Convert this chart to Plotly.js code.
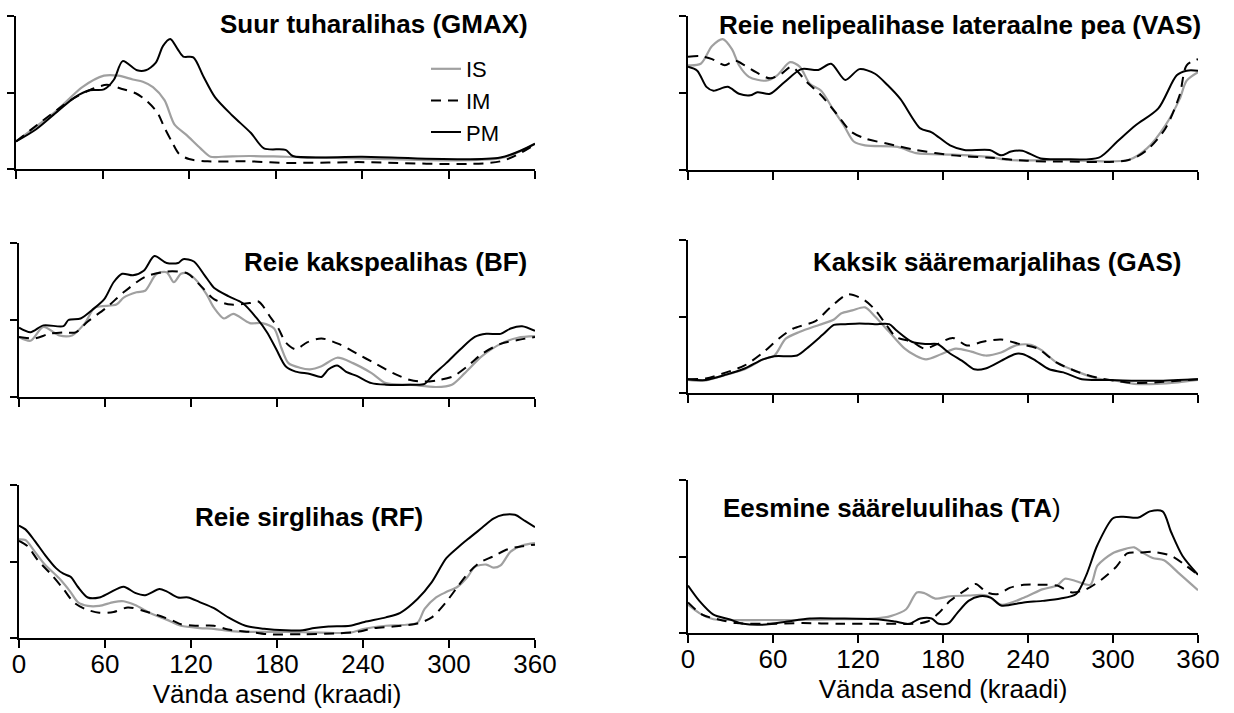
<!DOCTYPE html>
<html>
<head>
<meta charset="utf-8">
<script src="https://cdn.plot.ly/plotly-3.0.1.min.js"></script>
<style>html,body{margin:0;padding:0;background:#fff;}#chart{width:1234px;height:713px;}</style>
</head>
<body>
<div id="chart"></div>
<script>
// ---- Data (crank angle in degrees, relative EMG activity) ----
const seriesNames = ["IS", "IM", "PM"];
const xTicks = [0, 60, 120, 180, 240, 300, 360];
const xTitle = "Vända asend (kraadi)";

// Suur tuharalihas (GMAX)
const gmaxIS_x = [0, 28, 46, 61, 71, 81, 88, 95, 103, 110, 118, 128, 135, 143, 162, 187, 237, 336, 360];
const gmaxIS_y = [0.36, 0.76, 1.07, 1.22, 1.22, 1.17, 1.14, 1.07, 0.90, 0.58, 0.45, 0.27, 0.16, 0.16, 0.17, 0.16, 0.14, 0.14, 0.33];
const gmaxIM_x = [0, 38, 51, 63, 73, 83, 90, 98, 103, 108, 113, 120, 133, 162, 187, 237, 336, 360];
const gmaxIM_y = [0.36, 0.90, 1.03, 1.10, 1.05, 0.99, 0.90, 0.74, 0.54, 0.36, 0.20, 0.13, 0.10, 0.10, 0.08, 0.09, 0.10, 0.32];
const gmaxPM_x = [0, 14, 28, 41, 51, 61, 68, 74, 84, 90, 97, 102, 107, 112, 116, 123, 130, 138, 150, 163, 172, 187, 192, 240, 336, 360];
const gmaxPM_y = [0.36, 0.52, 0.74, 0.94, 1.03, 1.04, 1.17, 1.41, 1.29, 1.29, 1.39, 1.61, 1.70, 1.57, 1.47, 1.46, 1.21, 0.94, 0.70, 0.47, 0.27, 0.25, 0.17, 0.16, 0.15, 0.33];

// Reie nelipealihase lateraalne pea (VAS)
const vasIS_x = [0, 9, 17, 24.5, 31, 36, 43, 55, 63, 72, 79, 86, 94, 102, 110, 117, 125, 148, 161, 187, 213, 226, 264, 311, 324, 337, 347, 352, 360];
const vasIS_y = [1.36, 1.38, 1.61, 1.70, 1.57, 1.36, 1.21, 1.16, 1.23, 1.40, 1.34, 1.12, 1.03, 0.80, 0.58, 0.37, 0.32, 0.30, 0.22, 0.20, 0.17, 0.13, 0.13, 0.13, 0.28, 0.58, 0.92, 1.16, 1.27];
const vasIM_x = [0, 8, 17, 26, 33, 40, 48, 58, 66, 73, 84, 94, 104, 115, 125, 141, 161, 187, 213, 239, 264, 311, 324, 337, 347, 352, 360];
const vasIM_y = [1.47, 1.48, 1.44, 1.36, 1.42, 1.36, 1.27, 1.19, 1.25, 1.34, 1.14, 0.97, 0.75, 0.50, 0.41, 0.34, 0.26, 0.19, 0.16, 0.12, 0.11, 0.13, 0.26, 0.54, 0.97, 1.36, 1.44];
const vasPM_x = [0, 6.5, 13, 18, 28, 36, 44, 49, 58, 68, 80, 92, 101, 111, 121, 132, 141, 150, 164, 172, 185, 195, 213, 221, 228, 236, 249, 265, 290, 303, 316, 332, 345, 352, 360];
const vasPM_y = [1.34, 1.29, 1.08, 1.03, 1.08, 0.99, 0.97, 1.01, 0.99, 1.14, 1.31, 1.30, 1.38, 1.17, 1.31, 1.25, 1.10, 0.92, 0.54, 0.49, 0.32, 0.26, 0.26, 0.19, 0.24, 0.25, 0.15, 0.14, 0.16, 0.37, 0.58, 0.80, 1.23, 1.29, 1.29];

// Reie kakspealihas (BF)
const bfIS_x = [0, 8, 17, 28, 37, 46, 53, 68, 73, 82, 88, 96, 103, 108, 113, 117, 123, 131, 136, 143, 149.5, 161, 169.5, 178, 183, 188, 196, 203, 211, 222, 233, 246, 256, 273, 291, 302, 311, 323, 336, 348, 360];
const bfIS_y = [0.78, 0.73, 0.91, 0.80, 0.80, 0.96, 1.16, 1.20, 1.29, 1.36, 1.38, 1.60, 1.62, 1.49, 1.60, 1.61, 1.53, 1.33, 1.16, 1.02, 1.08, 0.96, 0.96, 0.89, 0.64, 0.44, 0.38, 0.36, 0.40, 0.51, 0.44, 0.31, 0.18, 0.16, 0.13, 0.16, 0.31, 0.53, 0.69, 0.77, 0.79];
const bfIM_x = [0, 11, 21, 31, 39.5, 48, 61, 73, 88, 103, 111, 118, 128, 136, 148, 161, 167, 176, 181, 186, 193, 201, 211, 223, 236, 248, 261, 273, 283, 293, 303, 313, 323, 336, 348, 360];
const bfIM_y = [0.78, 0.76, 0.82, 0.84, 0.84, 0.98, 1.16, 1.36, 1.56, 1.63, 1.63, 1.60, 1.42, 1.27, 1.20, 1.22, 1.24, 1.02, 0.89, 0.71, 0.62, 0.71, 0.76, 0.69, 0.56, 0.44, 0.31, 0.22, 0.20, 0.22, 0.27, 0.40, 0.56, 0.69, 0.74, 0.78];
const bfPM_x = [0, 8, 17, 31, 34.5, 43, 51, 59.5, 66, 72, 79.5, 87, 94.5, 103, 111, 114.5, 122, 129.5, 133, 136, 146, 156, 166, 173, 179.5, 186, 193, 203, 211, 216, 222, 228, 236, 246, 256, 273, 283, 288, 298, 308, 318, 326, 336, 343, 351, 360];
const bfPM_y = [0.90, 0.84, 0.93, 0.92, 1.00, 1.02, 1.13, 1.27, 1.49, 1.60, 1.58, 1.64, 1.83, 1.74, 1.74, 1.79, 1.76, 1.58, 1.49, 1.42, 1.31, 1.22, 1.02, 0.84, 0.62, 0.40, 0.33, 0.30, 0.26, 0.36, 0.41, 0.33, 0.27, 0.18, 0.16, 0.16, 0.17, 0.27, 0.44, 0.62, 0.78, 0.82, 0.82, 0.89, 0.92, 0.86];

// Kaksik sääremarjalihas (GAS)
const gasIS_x = [0, 11, 27, 40, 53, 61, 69, 79, 92.5, 103, 108, 116, 125, 132, 142, 153, 160.5, 168, 179, 189, 200, 210, 221, 231, 242, 249.5, 260, 276, 289, 302, 315, 331, 346, 360];
const gasIS_y = [0.17, 0.16, 0.24, 0.31, 0.44, 0.49, 0.71, 0.80, 0.89, 0.96, 1.04, 1.08, 1.12, 1.00, 0.80, 0.58, 0.49, 0.44, 0.51, 0.58, 0.54, 0.49, 0.53, 0.62, 0.63, 0.56, 0.40, 0.27, 0.19, 0.16, 0.12, 0.12, 0.14, 0.17];
const gasIM_x = [0, 12.6, 27, 40, 53, 64, 74, 90, 100, 113, 124, 132, 140, 147, 158, 167, 176, 187, 197, 208, 221, 234, 247, 260, 276, 289, 302, 315, 331, 346, 360];
const gasIM_y = [0.18, 0.19, 0.27, 0.36, 0.53, 0.71, 0.84, 0.94, 1.11, 1.29, 1.22, 1.09, 0.89, 0.73, 0.67, 0.58, 0.64, 0.72, 0.62, 0.67, 0.70, 0.64, 0.58, 0.40, 0.27, 0.20, 0.16, 0.13, 0.14, 0.16, 0.18];
const gasPM_x = [0, 12.6, 27, 40, 53, 61, 77, 85, 95, 103, 111, 121, 132, 142, 147, 158, 168, 176, 184, 195, 202, 210, 221, 231, 236, 244, 255, 265, 278, 297, 315, 331, 346, 360];
const gasPM_y = [0.18, 0.17, 0.24, 0.32, 0.44, 0.48, 0.49, 0.60, 0.76, 0.89, 0.90, 0.91, 0.90, 0.90, 0.82, 0.67, 0.64, 0.64, 0.53, 0.40, 0.31, 0.32, 0.42, 0.51, 0.51, 0.44, 0.31, 0.27, 0.18, 0.17, 0.16, 0.16, 0.17, 0.18];

// Reie sirglihas (RF)
const rfIS_x = [0, 4.5, 11, 18, 28, 36, 41, 48, 56, 66, 73, 81, 91, 103, 113, 126, 136, 148, 161, 186, 211, 231, 241, 256, 268, 278, 283, 291, 298, 306, 313, 318, 326, 331, 336, 343, 351, 360];
const rfIS_y = [1.29, 1.28, 1.13, 0.96, 0.78, 0.60, 0.47, 0.42, 0.42, 0.47, 0.48, 0.43, 0.33, 0.24, 0.16, 0.13, 0.12, 0.09, 0.08, 0.08, 0.07, 0.07, 0.12, 0.16, 0.17, 0.20, 0.38, 0.53, 0.60, 0.67, 0.80, 0.93, 0.96, 0.92, 0.95, 1.13, 1.21, 1.24];
const rfIM_x = [0, 6, 13, 23, 31, 38, 46, 56, 66, 76, 86, 98, 108, 113, 123, 136, 146, 161, 173, 198, 223, 236, 248, 261, 278, 288, 298, 306, 313, 321, 331, 341, 351, 360];
const rfIM_y = [1.27, 1.20, 1.02, 0.82, 0.64, 0.47, 0.38, 0.33, 0.34, 0.40, 0.36, 0.29, 0.22, 0.18, 0.16, 0.16, 0.11, 0.08, 0.05, 0.05, 0.06, 0.08, 0.13, 0.15, 0.19, 0.27, 0.47, 0.67, 0.84, 0.98, 1.07, 1.16, 1.20, 1.22];
const rfPM_x = [0, 4.5, 11, 18, 26, 31, 36, 41, 48, 56, 63, 73, 81, 88, 98, 103, 111, 118, 126, 136, 146, 158, 171, 186, 198, 206, 216, 231, 241, 256, 266, 278, 288, 298, 306, 313, 323, 331, 338, 346, 353, 360];
const rfPM_y = [1.47, 1.42, 1.27, 1.09, 0.91, 0.84, 0.80, 0.67, 0.53, 0.53, 0.59, 0.67, 0.59, 0.56, 0.64, 0.61, 0.53, 0.53, 0.47, 0.39, 0.27, 0.16, 0.12, 0.10, 0.10, 0.13, 0.15, 0.16, 0.21, 0.27, 0.33, 0.51, 0.73, 1.04, 1.18, 1.29, 1.44, 1.56, 1.61, 1.61, 1.53, 1.45];

// Eesmine sääreluulihas (TA)
const taIS_x = [0, 8, 18, 29, 55, 81, 107, 133, 143, 154, 161.5, 167, 174.5, 185, 198, 211, 221, 237, 250, 260.5, 266, 273.5, 284, 289, 299.5, 307, 315, 320, 328, 336, 346, 360];
const taIS_y = [0.37, 0.26, 0.18, 0.17, 0.17, 0.17, 0.18, 0.19, 0.22, 0.31, 0.53, 0.52, 0.45, 0.48, 0.49, 0.49, 0.37, 0.46, 0.57, 0.62, 0.71, 0.68, 0.63, 0.88, 1.04, 1.09, 1.12, 1.06, 0.98, 0.95, 0.79, 0.56];
const taIM_x = [0, 10, 21, 34, 55, 81, 107, 133, 146, 159, 169, 177, 185, 195, 203, 211, 219, 227, 237, 250, 260.5, 271, 281, 292, 302, 310, 318, 328, 341, 351.5, 360];
const taIM_y = [0.40, 0.24, 0.18, 0.13, 0.12, 0.13, 0.12, 0.12, 0.12, 0.12, 0.15, 0.26, 0.42, 0.55, 0.64, 0.53, 0.51, 0.59, 0.63, 0.63, 0.62, 0.53, 0.57, 0.70, 0.86, 1.04, 1.05, 1.06, 1.01, 0.88, 0.76];
const taPM_x = [0, 8, 18, 29, 39, 55, 70, 86, 107, 133, 146, 156, 164, 172, 177, 184, 190, 198, 206, 214, 221, 237, 250, 263, 274, 281, 289, 300, 307, 318, 326, 335, 341, 349, 360];
const taPM_y = [0.62, 0.42, 0.24, 0.18, 0.12, 0.11, 0.15, 0.19, 0.19, 0.18, 0.15, 0.12, 0.19, 0.19, 0.12, 0.13, 0.26, 0.42, 0.48, 0.46, 0.36, 0.40, 0.42, 0.45, 0.51, 0.75, 1.15, 1.50, 1.52, 1.51, 1.59, 1.59, 1.32, 1.01, 0.76];

const panelTitles = [
  "<b>Suur tuharalihas (GMAX)</b>",
  "<b>Reie nelipealihase lateraalne pea (VAS)</b>",
  "<b>Reie kakspealihas (BF)</b>",
  "<b>Kaksik sääremarjalihas (GAS)</b>",
  "<b>Reie sirglihas (RF)</b>",
  "<b>Eesmine sääreluulihas (TA</b>)"
];

// ---- Build ----
const W = 1234, H = 713;
const FONT = "Arial, 'Liberation Sans', sans-serif";
const styles = {
  IS: {color: "#a0a0a0", width: 2.2, dash: "solid"},
  IM: {color: "#000000", width: 2, dash: "10px,7px"},
  PM: {color: "#000000", width: 2, dash: "solid"}
};
const panels = [
  {IS: [gmaxIS_x, gmaxIS_y], IM: [gmaxIM_x, gmaxIM_y], PM: [gmaxPM_x, gmaxPM_y]},
  {IS: [vasIS_x, vasIS_y], IM: [vasIM_x, vasIM_y], PM: [vasPM_x, vasPM_y]},
  {IS: [bfIS_x, bfIS_y], IM: [bfIM_x, bfIM_y], PM: [bfPM_x, bfPM_y]},
  {IS: [gasIS_x, gasIS_y], IM: [gasIM_x, gasIM_y], PM: [gasPM_x, gasPM_y]},
  {IS: [rfIS_x, rfIS_y], IM: [rfIM_x, rfIM_y], PM: [rfPM_x, rfPM_y]},
  {IS: [taIS_x, taIS_y], IM: [taIM_x, taIM_y], PM: [taPM_x, taPM_y]}
];
// pixel frames [left, right, top, bottom]
const frames = [
  [16, 535, 16, 169],
  [688, 1198, 16, 170],
  [19, 535, 243, 397],
  [688, 1198, 240, 393],
  [19, 535, 485, 638],
  [688, 1198, 480, 633]
];
// title positions [x px, y px, anchor]
const titlePos = [
  [530, 24, "right"], [1203, 25, "right"], [529, 262, "right"],
  [1184, 262, "right"], [425, 517, "right"], [721, 508, "left"]
];

const traces = [];
const layout = {
  width: W, height: H,
  margin: {l: 0, r: 0, t: 0, b: 0},
  paper_bgcolor: "#fff", plot_bgcolor: "rgba(0,0,0,0)",
  font: {family: FONT, color: "#000"},
  showlegend: true,
  legend: {x: 426 / W, y: 1 - 48 / H, xanchor: "left", yanchor: "top",
           font: {size: 22, family: FONT, color: "#000"}, bgcolor: "rgba(0,0,0,0)",
           tracegroupgap: 0, itemwidth: 30},
  annotations: []
};

panels.forEach((p, i) => {
  const n = i + 1;
  const xa = "x" + (n === 1 ? "" : n), ya = "y" + (n === 1 ? "" : n);
  seriesNames.forEach(s => {
    traces.push({
      type: "scatter", mode: "lines", name: s,
      x: p[s][0], y: p[s][1], xaxis: xa, yaxis: ya,
      line: {color: styles[s].color, width: styles[s].width, dash: styles[s].dash, shape: "spline", smoothing: 0.8},
      showlegend: i === 0, hoverinfo: "skip"
    });
  });
  const f = frames[i];
  const bottomRow = i >= 4;
  const xKey = "xaxis" + (n === 1 ? "" : n), yKey = "yaxis" + (n === 1 ? "" : n);
  layout[xKey] = {
    domain: [f[0] / W, f[1] / W], anchor: ya, range: [0, 360],
    tickvals: xTicks, ticktext: xTicks.map(String), showticklabels: bottomRow,
    ticks: "outside", ticklen: 8, tickwidth: 2, tickcolor: "#000",
    ticklabelstandoff: -6,
    showline: true, linecolor: "#000", linewidth: 2, showgrid: false, zeroline: false,
    tickfont: {size: 26, family: FONT, color: "#000"},
    title: bottomRow ? {text: xTitle, font: {size: 26, family: FONT, color: "#000"}, standoff: 4} : {text: ""},
    fixedrange: true
  };
  layout[yKey] = {
    domain: [1 - f[3] / H, 1 - f[2] / H], anchor: xa, range: [0, 2],
    tickvals: [0, 1, 2], showticklabels: false,
    ticks: "outside", ticklen: 7, tickwidth: 2, tickcolor: "#000",
    showline: true, linecolor: "#000", linewidth: 2, showgrid: false, zeroline: false,
    fixedrange: true
  };
  const t = titlePos[i];
  layout.annotations.push({
    text: panelTitles[i], xref: "paper", yref: "paper",
    x: t[0] / W, y: 1 - t[1] / H, xanchor: t[2], yanchor: "middle",
    showarrow: false, font: {size: 26, family: FONT, color: "#000"}
  });
});

Plotly.newPlot("chart", traces, layout, {staticPlot: true, displayModeBar: false});
</script>
</body>
</html>
